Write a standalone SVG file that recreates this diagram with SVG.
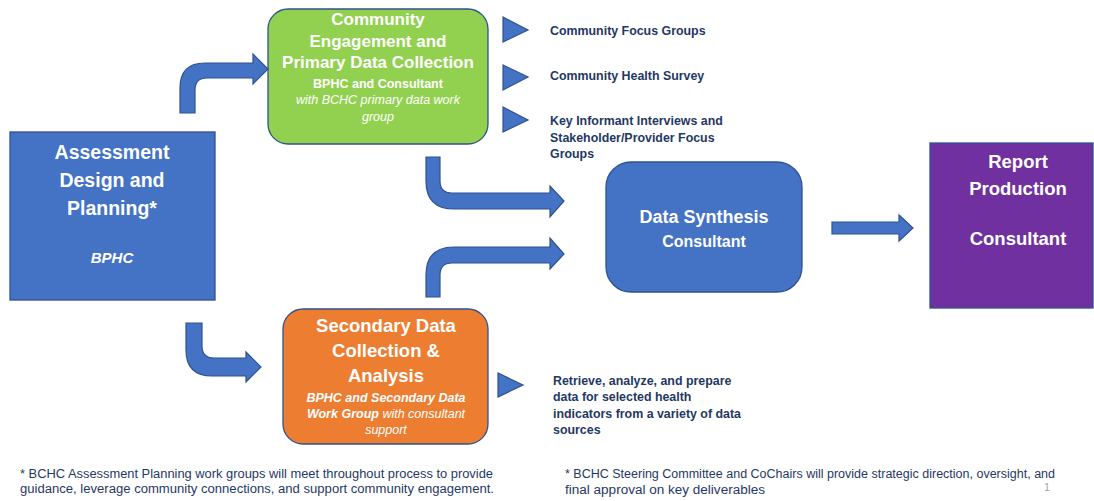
<svg xmlns="http://www.w3.org/2000/svg" width="1094" height="501" viewBox="0 0 1094 501">
  <style>
    text { font-family: "Liberation Sans", Arial, sans-serif; }
    .box { stroke: #2F528F; stroke-width: 1.3; }
    .blue { fill: #4472C4; }
    .green { fill: #92D050; }
    .orange { fill: #ED7D31; }
    .purple { fill: #7030A0; }
    .arrow { fill: #4472C4; stroke: #2F528F; stroke-width: 1.2; stroke-linejoin: miter; }
    .w { fill: #FFFFFF; text-anchor: middle; font-weight: bold; }
    .wi { fill: #FFFFFF; text-anchor: middle; font-style: italic; }
    .note { fill: #1F3864; font-weight: bold; font-size: 12.4px; }
    .foot { fill: #1F3864; font-size: 12px; }
  </style>

  <!-- Assessment design box -->
  <g id="assessment">
    <rect class="box blue" x="10" y="132" width="205" height="168"/>
    <text class="w" x="112" y="159" font-size="19.5">Assessment</text>
    <text class="w" x="112" y="187" font-size="19.5">Design and</text>
    <text class="w" x="112" y="215" font-size="19.5">Planning*</text>
    <text class="w" x="112" y="263" font-size="15" font-style="italic">BPHC</text>
  </g>

  <!-- Community engagement box -->
  <g id="community">
    <rect class="box green" x="268" y="9" width="220" height="135" rx="20"/>
    <text class="w" x="378" y="25" font-size="17">Community</text>
    <text class="w" x="378" y="47" font-size="17">Engagement and</text>
    <text class="w" x="378" y="68" font-size="17">Primary Data Collection</text>
    <text class="w" x="378" y="88" font-size="12.5">BPHC and Consultant</text>
    <text class="wi" x="378" y="104" font-size="12.5">with BCHC primary data work</text>
    <text class="wi" x="378" y="121" font-size="12.5">group</text>
  </g>

  <!-- Secondary data box -->
  <g id="secondary">
    <rect class="box orange" x="283" y="309" width="205" height="135" rx="20"/>
    <text class="w" x="386" y="332" font-size="18.5">Secondary Data</text>
    <text class="w" x="386" y="357" font-size="18.5">Collection &amp;</text>
    <text class="w" x="386" y="382" font-size="18.5">Analysis</text>
    <text class="wi" x="386" y="402" font-size="12.5" font-weight="bold">BPHC and Secondary Data</text>
    <text class="wi" x="386" y="418" font-size="12.5"><tspan font-weight="bold">Work Group</tspan> with consultant</text>
    <text class="wi" x="386" y="434" font-size="12.5">support</text>
  </g>

  <!-- Data synthesis box -->
  <g id="synthesis">
    <rect class="box blue" x="606" y="162" width="196" height="130" rx="25"/>
    <text class="w" x="704" y="223" font-size="18">Data Synthesis</text>
    <text class="w" x="704" y="247" font-size="16">Consultant</text>
  </g>

  <!-- Report production box -->
  <g id="report">
    <rect class="box purple" x="930" y="143" width="163" height="165"/>
    <text class="w" x="1018" y="168" font-size="18.5">Report</text>
    <text class="w" x="1018" y="195" font-size="18.5">Production</text>
    <text class="w" x="1018" y="245" font-size="18.5">Consultant</text>
  </g>

  <!-- Activity bullets -->
  <g id="activities">
    <polygon class="arrow" points="503,17 528,30 503,42"/>
    <polygon class="arrow" points="503,65 528,77 503,90"/>
    <polygon class="arrow" points="503,107 528,120 503,132"/>
    <polygon class="arrow" points="498,373 523,385 498,397"/>
    <text class="note" x="550" y="35">Community Focus Groups</text>
    <text class="note" x="550" y="80">Community Health Survey</text>
    <text class="note" x="550" y="125">Key Informant Interviews and</text>
    <text class="note" x="550" y="142">Stakeholder/Provider Focus</text>
    <text class="note" x="550" y="158">Groups</text>
    <text class="note" x="553" y="385">Retrieve, analyze, and prepare</text>
    <text class="note" x="553" y="401">data for selected health</text>
    <text class="note" x="553" y="418">indicators from a variety of data</text>
    <text class="note" x="553" y="434">sources</text>
  </g>

  <!-- Connectors -->
  <g id="connectors">
    <path class="arrow" d="M180,113 L180,88 Q180,63 205,63 L253,63 L253,54 L268,69 L253,84 L253,78 L207,78 Q195,78 195,90 L195,113 Z"/>
    <path class="arrow" d="M186,323 L202,323 L202,346 Q202,358 214,358 L246,358 L246,352 L261,367 L246,382 L246,376 L212,376 Q186,376 186,350 Z"/>
    <path class="arrow" d="M426,157 L440,157 L440,181 Q440,193 452,193 L550,193 L550,186 L564,201 L550,217 L550,209 L454,209 Q426,209 426,181 Z"/>
    <path class="arrow" d="M426,297 L426,275 Q426,247 454,247 L550,247 L550,238 L564,254 L550,269 L550,263 L452,263 Q440,263 440,275 L440,297 Z"/>
    <path class="arrow" d="M832,222 L899,222 L899,215 L913,228 L899,241 L899,234 L832,234 Z"/>
  </g>

  <!-- Footnotes -->
  <g id="footnotes">
    <text class="foot" x="20" y="478" textLength="473" lengthAdjust="spacingAndGlyphs">* BCHC Assessment Planning work groups will meet throughout process to provide</text>
    <text class="foot" x="20" y="493" textLength="474" lengthAdjust="spacingAndGlyphs">guidance, leverage community connections, and support community engagement.</text>
    <text class="foot" x="565" y="478" textLength="490" lengthAdjust="spacingAndGlyphs">* BCHC Steering Committee and CoChairs will provide strategic direction, oversight, and</text>
    <text class="foot" x="565" y="494" textLength="200" lengthAdjust="spacingAndGlyphs">final approval on key deliverables</text>
    <text x="1044" y="491" font-size="11" fill="#A6A6A6">1</text>
  </g>
</svg>
